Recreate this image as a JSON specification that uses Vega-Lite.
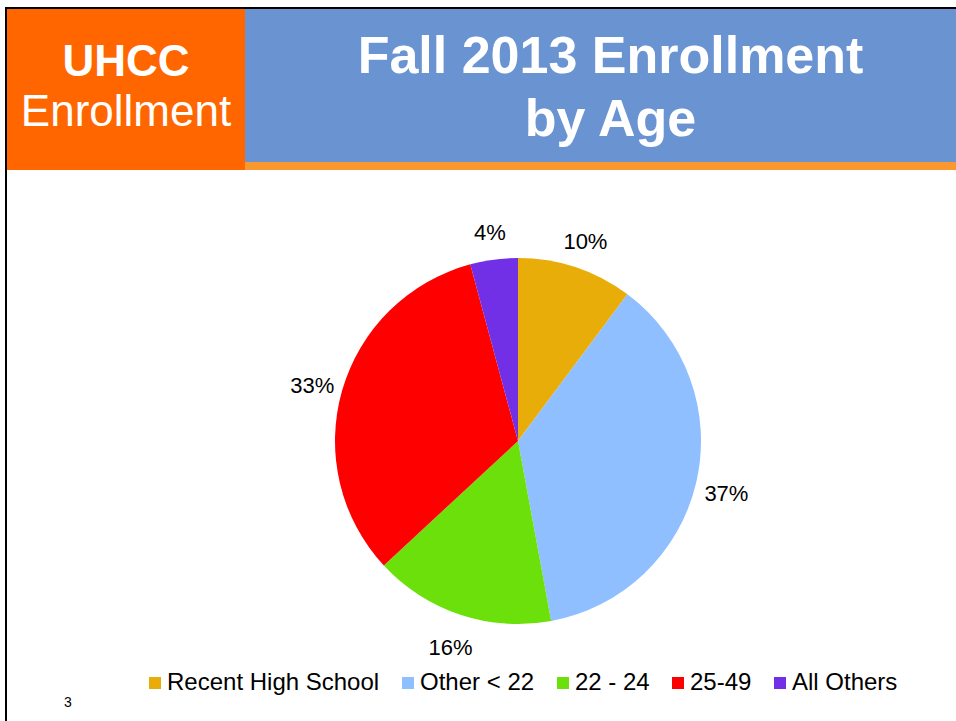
{
  "$schema": "https://vega.github.io/schema/vega-lite/v6.json",
  "background": "white",
  "padding": {"left": 5, "top": 7, "right": 0, "bottom": 0},
  "config": {"view": {"stroke": null}, "concat": {"spacing": 0}, "font": "Liberation Sans"},
  "spacing": 0,
  "resolve": {"scale": {"color": "independent"}, "legend": {"color": "independent"}},
  "vconcat": [
    {"width": 951, "height": 2, "view": {"fill": "#000000"}, "data": {"values": []}, "mark": "rect"},
    {
      "spacing": 0,
      "resolve": {"scale": {"color": "independent"}, "legend": {"color": "independent"}},
      "hconcat": [
        {"width": 2, "height": 712, "view": {"fill": "#000000"}, "data": {"values": []}, "mark": "rect"},
        {
          "spacing": 0,
          "resolve": {"scale": {"color": "independent"}, "legend": {"color": "independent"}},
          "vconcat": [
            {
              "spacing": 0,
              "hconcat": [
                {
                  "width": 238,
                  "height": 161,
                  "view": {"fill": "#FF6600"},
                  "data": {"values": [{"t": "UHCC", "line": "1"}, {"t": "Enrollment", "line": "2"}]},
                  "encoding": {
                    "y": {"field": "line", "type": "ordinal", "axis": null, "scale": {"type": "point", "domain": ["1", "2"], "padding": 1.177}},
                    "text": {"field": "t"}
                  },
                  "layer": [
                    {"transform": [{"filter": "datum.line == '1'"}], "mark": {"type": "text", "font": "Liberation Sans", "fontSize": 44, "fontWeight": "bold", "fill": "white", "baseline": "middle", "dy": 0}},
                    {"transform": [{"filter": "datum.line == '2'"}], "mark": {"type": "text", "font": "Liberation Sans", "fontSize": 44, "fill": "white", "baseline": "middle", "dy": -3}}
                  ]
                },
                {
                  "spacing": 0,
                  "vconcat": [
                    {
                      "width": 711,
                      "height": 153,
                      "view": {"fill": "#6A93D2"},
                      "data": {"values": [{"t": "Fall 2013 Enrollment", "line": "1"}, {"t": "by Age", "line": "2"}]},
                      "mark": {"type": "text", "font": "Liberation Sans", "fontSize": 52, "fontWeight": "bold", "fill": "white", "baseline": "middle", "dx": 10, "dy": 3},
                      "encoding": {
                        "y": {"field": "line", "type": "ordinal", "axis": null, "scale": {"type": "point", "domain": ["1", "2"], "padding": 0.714}},
                        "text": {"field": "t"}
                      }
                    },
                    {"width": 711, "height": 8, "view": {"fill": "#F8982E"}, "data": {"values": []}, "mark": "rect"}
                  ]
                }
              ]
            },
            {
              "spacing": 0,
              "resolve": {"scale": {"color": "independent"}, "legend": {"color": "independent"}},
              "hconcat": [
                {
                  "spacing": 0,
                  "vconcat": [
                    {"width": 122, "height": 524, "data": {"values": []}, "mark": "rect"},
                    {
                      "width": 122,
                      "height": 18,
                      "data": {"values": [{"n": "3"}]},
                      "mark": {"type": "text", "font": "Liberation Sans", "fontSize": 14, "fill": "black", "baseline": "middle"},
                      "encoding": {"text": {"field": "n"}}
                    }
                  ]
                },
                {
                  "spacing": 0,
                  "resolve": {"scale": {"color": "independent"}, "legend": {"color": "independent"}},
                  "vconcat": [
                    {"width": 778, "height": 39, "data": {"values": []}, "mark": "rect"},
                    {
                      "width": 778,
                      "height": 464,
                      "data": {
                        "values": [
                          {"cat": "Recent High School", "value": 10.2, "ord": 1, "label": "10%"},
                          {"cat": "Other < 22", "value": 36.9, "ord": 2, "label": "37%"},
                          {"cat": "22 - 24", "value": 16.0, "ord": 3, "label": "16%"},
                          {"cat": "25-49", "value": 32.7, "ord": 4, "label": "33%"},
                          {"cat": "All Others", "value": 4.2, "ord": 5, "label": "4%"}
                        ]
                      },
                      "encoding": {
                        "theta": {"field": "value", "type": "quantitative", "stack": true},
                        "order": {"field": "ord", "type": "quantitative"}
                      },
                      "layer": [
                        {
                          "mark": {"type": "arc", "outerRadius": 183},
                          "encoding": {
                            "color": {
                              "field": "cat",
                              "type": "nominal",
                              "sort": null,
                              "scale": {
                                "domain": ["Recent High School", "Other < 22", "22 - 24", "25-49", "All Others"],
                                "range": ["#E9AD09", "#8FBFFF", "#6CE00A", "#FF0000", "#7230E6"]
                              },
                              "legend": {
                                "orient": "bottom",
                                "direction": "horizontal",
                                "title": null,
                                "symbolType": "square",
                                "symbolSize": 144,
                                "symbolStrokeWidth": 0,
                                "labelFont": "Liberation Sans",
                                "labelFontSize": 24,
                                "labelColor": "black",
                                "labelLimit": 400,
                                "labelOffset": 0,
                                "columnPadding": 16,
                                "padding": 14,
                                "offset": -16
                              }
                            }
                          }
                        },
                        {
                          "mark": {"type": "text", "radius": 214, "font": "Liberation Sans", "fontSize": 22, "fill": "black", "dy": 4},
                          "encoding": {
                            "detail": {"field": "cat", "type": "nominal"},
                            "text": {"field": "label"}
                          }
                        }
                      ]
                    }
                  ]
                },
                {"width": 49, "height": 10, "data": {"values": []}, "mark": "rect"}
              ]
            }
          ]
        }
      ]
    }
  ]
}
